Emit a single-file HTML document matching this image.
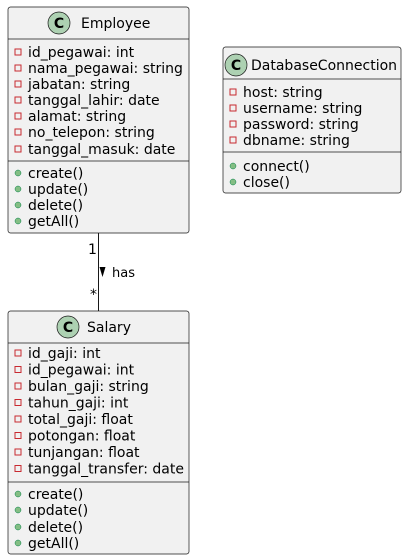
<!DOCTYPE html>
<html><head><style>body{margin:0;background:#fff}svg{display:block}</style></head>
<body>
<svg width="407" height="560" xmlns="http://www.w3.org/2000/svg" font-family="DejaVu Sans, sans-serif" font-size="14" fill="#000">
<g stroke="#181818" stroke-width="0.7">
<rect x="8" y="7" width="181" height="226" rx="2.5" fill="#F1F1F1"/>
<line x1="8" y1="39" x2="189" y2="39"/>
<line x1="8" y1="161" x2="189" y2="161"/>
<rect x="223" y="47" width="178" height="146" rx="2.5" fill="#F1F1F1"/>
<line x1="223" y1="79" x2="401" y2="79"/>
<line x1="223" y1="152" x2="401" y2="152"/>
<rect x="8" y="311" width="181" height="243" rx="2.5" fill="#F1F1F1"/>
<line x1="8" y1="343" x2="189" y2="343"/>
<line x1="8" y1="482" x2="189" y2="482"/>
<line x1="98.5" y1="233" x2="98.5" y2="311" stroke-width="1"/>
<circle cx="59" cy="23" r="11" fill="#ADD1B2"/>
<circle cx="236" cy="65" r="11" fill="#ADD1B2"/>
<circle cx="68" cy="327" r="11" fill="#ADD1B2"/>
</g>
<g font-weight="bold" font-size="14" text-anchor="middle">
<text x="59" y="28">C</text><text x="236" y="70">C</text><text x="68" y="332">C</text>
</g>
<text x="81" y="28" font-size="14">Employee</text>
<text x="251" y="70" font-size="14">DatabaseConnection</text>
<text x="87" y="332" font-size="14">Salary</text>
<g fill="none" stroke="#C82930" stroke-width="1">
<rect x="15" y="49" width="6" height="6"/><rect x="15" y="65" width="6" height="6"/><rect x="15" y="81" width="6" height="6"/><rect x="15" y="97" width="6" height="6"/><rect x="15" y="113" width="6" height="6"/><rect x="15" y="129" width="6" height="6"/><rect x="15" y="146" width="6" height="6"/>
<rect x="230" y="89" width="6" height="6"/><rect x="230" y="105" width="6" height="6"/><rect x="230" y="121" width="6" height="6"/><rect x="230" y="137" width="6" height="6"/>
<rect x="15" y="350" width="6" height="6"/><rect x="15" y="366.5" width="6" height="6"/><rect x="15" y="383" width="6" height="6"/><rect x="15" y="399.5" width="6" height="6"/><rect x="15" y="416" width="6" height="6"/><rect x="15" y="432.5" width="6" height="6"/><rect x="15" y="449" width="6" height="6"/><rect x="15" y="465.5" width="6" height="6"/>
</g>
<g fill="#84BE84" stroke="#038048" stroke-width="0.5">
<circle cx="18" cy="173" r="3"/><circle cx="18" cy="189" r="3"/><circle cx="18" cy="205" r="3"/><circle cx="18" cy="221" r="3"/>
<circle cx="233" cy="166" r="3"/><circle cx="233" cy="182" r="3"/>
<circle cx="18" cy="494" r="3"/><circle cx="18" cy="510" r="3"/><circle cx="18" cy="527" r="3"/><circle cx="18" cy="543" r="3"/>
</g>
<g>
<text x="28" y="57">id_pegawai: int</text>
<text x="28" y="73">nama_pegawai: string</text>
<text x="28" y="89">jabatan: string</text>
<text x="28" y="105">tanggal_lahir: date</text>
<text x="28" y="121">alamat: string</text>
<text x="28" y="137">no_telepon: string</text>
<text x="28" y="154">tanggal_masuk: date</text>
<text x="28" y="178">create()</text>
<text x="28" y="194">update()</text>
<text x="28" y="210">delete()</text>
<text x="28" y="226">getAll()</text>
<text x="243" y="97">host: string</text>
<text x="243" y="113">username: string</text>
<text x="243" y="129">password: string</text>
<text x="243" y="145">dbname: string</text>
<text x="243" y="171">connect()</text>
<text x="243" y="187">close()</text>
<text x="28" y="358">id_gaji: int</text>
<text x="28" y="374.5">id_pegawai: int</text>
<text x="28" y="391">bulan_gaji: string</text>
<text x="28" y="407.5">tahun_gaji: int</text>
<text x="28" y="424">total_gaji: float</text>
<text x="28" y="440.5">potongan: float</text>
<text x="28" y="457">tunjangan: float</text>
<text x="28" y="473.5">tanggal_transfer: date</text>
<text x="28" y="499">create()</text>
<text x="28" y="515">update()</text>
<text x="28" y="532">delete()</text>
<text x="28" y="548">getAll()</text>
</g>
<text x="88" y="254">1</text>
<text x="90" y="299">*</text>
<polygon points="99.5,267 105.5,267 102.5,277" fill="#000"/>
<text x="112" y="277" font-size="13">has</text>
</svg>
</body></html>
